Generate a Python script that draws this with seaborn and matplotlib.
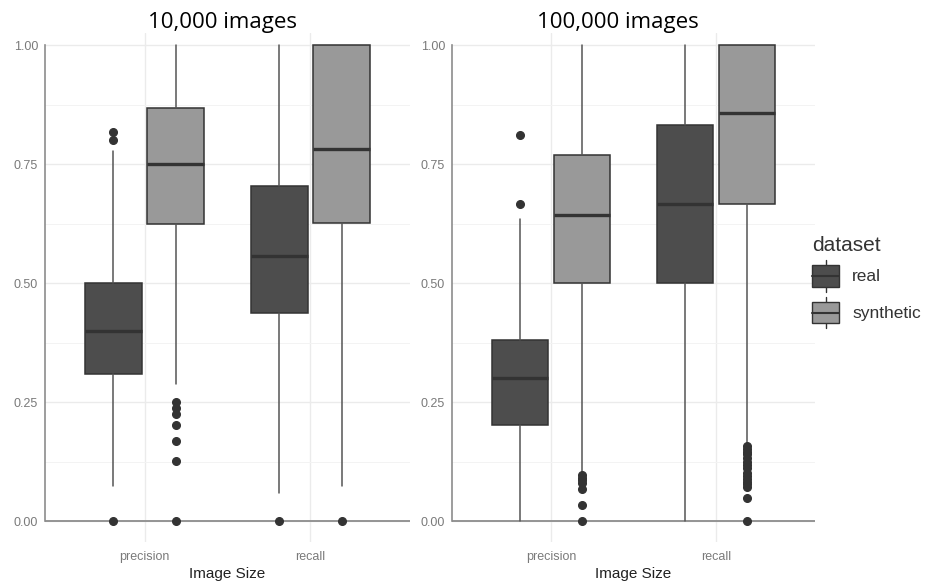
import matplotlib
matplotlib.use("Agg")
import matplotlib.pyplot as plt
import seaborn as sns
from matplotlib.patches import Patch, Rectangle
from matplotlib.lines import Line2D
from matplotlib.legend_handler import HandlerBase
from matplotlib.ticker import MultipleLocator

# categories on the x axis and the hue groups
categories = ["precision", "recall"]
datasets = ["real", "synthetic"]
colors = {"real": "#4d4d4d", "synthetic": "#999999"}
titles = ["10,000 images", "100,000 images"]

# box statistics
# order: precision-real, precision-synthetic, recall-real, recall-synthetic
small_whislo = [0.074, 0.287, 0.058, 0.074]
small_q1 = [0.308, 0.625, 0.438, 0.627]
small_med = [0.40, 0.75, 0.557, 0.782]
small_q3 = [0.50, 0.868, 0.704, 1.0]
small_whishi = [0.778, 1.0, 1.0, 1.0]
small_fliers = [
    [0.0, 0.80, 0.818],
    [0.0, 0.127, 0.168, 0.202, 0.224, 0.237, 0.251],
    [0.0],
    [0.0],
]

large_whislo = [0.0, 0.10, 0.0, 0.163]
large_q1 = [0.201, 0.50, 0.50, 0.667]
large_med = [0.30, 0.643, 0.667, 0.857]
large_q3 = [0.381, 0.770, 0.833, 1.0]
large_whishi = [0.635, 1.0, 1.0, 1.0]
large_fliers = [
    [0.667, 0.812],
    [0.0, 0.034, 0.067, 0.080, 0.086, 0.091, 0.097],
    [],
    [0.0, 0.048, 0.071, 0.077, 0.083, 0.088, 0.094, 0.100, 0.111, 0.117,
     0.125, 0.133, 0.140, 0.146, 0.152, 0.158],
]

panels = [
    (small_whislo, small_q1, small_med, small_q3, small_whishi, small_fliers),
    (large_whislo, large_q1, large_med, large_q3, large_whishi, large_fliers),
]

EDGE = "#333333"
GRID = "#ebebeb"
AXIS = "#8c8c8c"
TICK = "#7a7a7a"


class BoxKeyHandler(HandlerBase):
    # ggplot style boxplot legend key
    def create_artists(self, legend, orig_handle, xdescent, ydescent,
                       width, height, fontsize, trans):
        fc = orig_handle.get_facecolor()
        bh = height * 0.68
        x0 = -xdescent
        y0 = -ydescent + (height - bh) / 2
        cx = x0 + width / 2
        rect = Rectangle((x0, y0), width, bh, facecolor=fc, edgecolor=EDGE,
                         lw=1.0, transform=trans)
        med = Line2D([x0, x0 + width], [y0 + bh / 2] * 2, color=EDGE, lw=1.5,
                     transform=trans)
        wlo = Line2D([cx, cx], [-ydescent, y0], color=EDGE, lw=1.0, transform=trans)
        whi = Line2D([cx, cx], [y0 + bh, -ydescent + height], color=EDGE, lw=1.0,
                     transform=trans)
        return [wlo, whi, rect, med]


sns.set_theme(style="white")
plt.rcParams["font.family"] = ["Liberation Sans", "DejaVu Sans"]

fig = plt.figure(figsize=(9.25, 5.83), dpi=100)
ax_rects = [
    [45 / 925, 0.0696, 365 / 925, 0.8734],
    [452 / 925, 0.0696, 363 / 925, 0.8734],
]
title_x = [222 / 925, 618 / 925]

offset = 0.1875
for i, (whislo, q1, med, q3, whishi, fliers) in enumerate(panels):
    ax = fig.add_axes(ax_rects[i])
    stats, positions, fills = [], [], []
    k = 0
    for c, cat in enumerate(categories):
        for d, ds in enumerate(datasets):
            stats.append(dict(whislo=whislo[k], q1=q1[k], med=med[k], q3=q3[k],
                              whishi=whishi[k], fliers=fliers[k]))
            positions.append(c + (offset if d else -offset))
            fills.append(colors[ds])
            k += 1

    # grid first so boxes sit on top
    ax.set_axisbelow(True)
    ax.yaxis.set_major_locator(MultipleLocator(0.25))
    ax.yaxis.set_minor_locator(MultipleLocator(0.125))
    ax.grid(True, which="major", color=GRID, lw=1.0)
    ax.grid(True, which="minor", axis="y", color="#f3f3f3", lw=0.7)
    ax.axhline(0, color=AXIS, lw=1.3, zorder=1.5)

    bp = ax.bxp(stats, positions=positions, widths=0.34, patch_artist=True,
                showcaps=False, manage_ticks=False,
                boxprops=dict(edgecolor=EDGE, lw=1.1),
                medianprops=dict(color=EDGE, lw=2.4),
                whiskerprops=dict(color="#555555", lw=1.1),
                flierprops=dict(marker="o", markersize=5.5, markerfacecolor=EDGE,
                                markeredgecolor=EDGE))
    for patch, fc in zip(bp["boxes"], fills):
        patch.set_facecolor(fc)

    ax.set_xlim(-0.6, 1.6)
    ax.set_ylim(-0.045, 1.025)
    ax.set_xticks(range(len(categories)))
    ax.set_xticklabels(categories)
    ax.set_yticks([0, 0.25, 0.5, 0.75, 1.0])
    ax.set_yticklabels(["0.00", "0.25", "0.50", "0.75", "1.00"])
    ax.tick_params(axis="x", length=0, pad=6, labelsize=9, labelcolor=TICK)
    ax.tick_params(axis="y", which="major", length=2, width=1, color=AXIS,
                   pad=3, labelsize=9, labelcolor=TICK)
    ax.tick_params(axis="y", which="minor", length=0)
    ax.set_xlabel("Image Size", fontsize=11, color="#222222", labelpad=3)
    ax.set_ylabel("")

    for side in ["top", "right", "bottom"]:
        ax.spines[side].set_visible(False)
    ax.spines["left"].set_color(AXIS)
    ax.spines["left"].set_linewidth(1.2)
    ax.spines["left"].set_bounds(0, 1)

    fig.text(title_x[i], 0.952, titles[i], ha="center", va="baseline",
             fontsize=16, family=["Open Sans", "DejaVu Sans"], color="black")

handles = [Patch(facecolor=colors[ds], edgecolor=EDGE) for ds in datasets]
leg = fig.legend(handles, datasets, title="dataset", loc="upper left",
                 bbox_to_anchor=(800 / 925, 1 - 224 / 583), frameon=False,
                 fontsize=12.5, title_fontsize=15, handlelength=1.55,
                 handleheight=2.4, labelspacing=0.3, handletextpad=0.75,
                 borderpad=0.2, handler_map={Patch: BoxKeyHandler()})
leg._legend_box.align = "left"
for t in leg.get_texts():
    t.set_color("#333333")
leg.get_title().set_color("#333333")

fig.savefig("out.png", dpi=100)
